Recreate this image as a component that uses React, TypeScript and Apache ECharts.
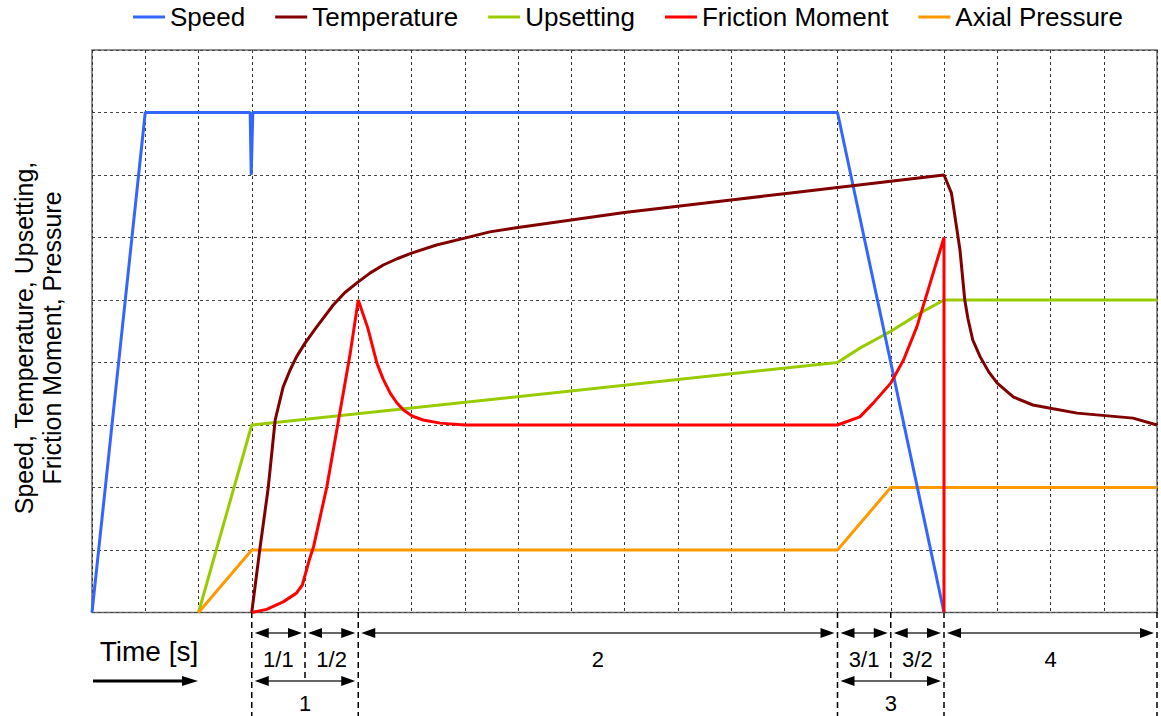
import React, { useEffect, useRef } from "react";
import * as echarts from "echarts";

// ---- Data (x in time units, y in relative units) ----
const speed: number[][] = [[0, 0], [1, 8], [2.97, 8], [2.99, 7], [3.02, 8], [14, 8], [16, 0]];
const temperature: number[][] = [
  [3, 0], [3.15, 1], [3.31, 2], [3.44, 3.08], [3.59, 3.61], [3.72, 3.88], [3.84, 4.09], [4.0, 4.31],
  [4.22, 4.57], [4.53, 4.92], [4.75, 5.12], [5.0, 5.29], [5.22, 5.43], [5.47, 5.56], [5.73, 5.66],
  [6.0, 5.75], [6.47, 5.88], [7.0, 5.99], [7.47, 6.09], [8, 6.16], [9, 6.28], [10, 6.4],
  [11, 6.5], [12, 6.6], [13, 6.7], [14, 6.8], [15, 6.9], [16, 7.0], [16.14, 6.71], [16.3, 5.8],
  [16.39, 5.0], [16.45, 4.7], [16.54, 4.36], [16.68, 4.09], [16.84, 3.85], [17, 3.67], [17.3, 3.45],
  [17.67, 3.32], [18.05, 3.26], [18.5, 3.19], [19.55, 3.11], [20, 3.0],
];
const upsetting: number[][] = [[2, 0], [3, 3], [14, 4], [14.42, 4.23], [15, 4.5], [15.55, 4.79], [16, 5], [20, 5]];
const frictionMoment: number[][] = [
  [3, 0], [3.28, 0.05], [3.59, 0.17], [3.84, 0.31], [3.95, 0.44], [4.08, 0.84], [4.16, 1.05],
  [4.41, 2.01], [4.63, 3.08], [4.85, 4.15], [5.0, 5.0], [5.18, 4.55], [5.35, 3.99], [5.47, 3.73],
  [5.6, 3.51], [5.72, 3.36], [5.85, 3.24], [6.02, 3.14], [6.22, 3.08], [6.54, 3.03], [7, 3],
  [14, 3], [14.42, 3.13], [14.67, 3.35], [15, 3.67], [15.24, 4.04], [15.49, 4.57], [15.74, 5.27],
  [16, 6], [16, 0],
];
const axialPressure: number[][] = [[2, 0], [3, 1], [14, 1], [15, 2], [20, 2]];

const seriesNames = ["Speed", "Temperature", "Upsetting", "Friction Moment", "Axial Pressure"];
const seriesColors = ["#3366FF", "#800000", "#99CC00", "#FF0000", "#FF9900"];

// Phase annotations below the time axis
const subPhases = [
  { from: 3, to: 4, label: "1/1" },
  { from: 4, to: 5, label: "1/2" },
  { from: 5, to: 14, label: "2" },
  { from: 14, to: 15, label: "3/1" },
  { from: 15, to: 16, label: "3/2" },
  { from: 16, to: 20, label: "4" },
];
const phases = [
  { from: 3, to: 5, label: "1" },
  { from: 14, to: 16, label: "3" },
];
const phaseBounds = [3, 4, 5, 14, 15, 16, 20];
const shortBounds = [4, 15];

const FONT = "Liberation Sans, Arial, sans-serif";

export default function App() {
  const ref = useRef<HTMLDivElement>(null);
  useEffect(() => {
    document.body.style.margin = "0";
    const chart = echarts.init(ref.current!, null, { renderer: "svg" });

    const arrowItems = [
      ...subPhases.map((p) => ({ ...p, row: 0 })),
      ...phases.map((p) => ({ ...p, row: 1 })),
    ];
    const rowLineOff = [21, 69];
    const rowLabelOff = [47, 91];

    const data = [speed, temperature, upsetting, frictionMoment, axialPressure];
    const zs = [3, 4, 2, 5, 2];

    const option: any = {
      animation: false,
      backgroundColor: "#fff",
      textStyle: { fontFamily: FONT },
      legend: {
        data: seriesNames,
        left: 133,
        top: 4,
        padding: 0,
        itemGap: 30,
        itemWidth: 32,
        itemHeight: 3,
        icon: "rect",
        textStyle: { fontSize: 26, color: "#000", fontFamily: FONT },
      },
      grid: [
        { left: 92, right: 4, top: 50, height: 562.5, show: true, borderColor: "#6b6b6b", borderWidth: 1.5, backgroundColor: "#fff" },
        { left: 92, right: 4, top: 612, height: 104 },
      ],
      xAxis: [
        {
          type: "value", gridIndex: 0, min: 0, max: 20, interval: 1,
          axisLabel: { show: false }, axisTick: { show: false }, axisLine: { show: false },
          splitLine: { show: true, lineStyle: { type: [3, 3], color: "#333", width: 1 } },
        },
        { type: "value", gridIndex: 1, min: 0, max: 20, show: false },
      ],
      yAxis: [
        {
          type: "value", gridIndex: 0, min: 0, max: 9, interval: 1,
          axisLabel: { show: false }, axisTick: { show: false }, axisLine: { show: false },
          splitLine: { show: true, lineStyle: { type: [3, 3], color: "#444", width: 1 } },
        },
        { type: "value", gridIndex: 1, min: 0, max: 1, show: false },
      ],
      series: [
        ...seriesNames.map((name, i) => ({
          name,
          type: "line",
          xAxisIndex: 0,
          yAxisIndex: 0,
          data: data[i],
          showSymbol: false,
          symbol: "none",
          z: zs[i],
          color: seriesColors[i],
          lineStyle: { color: seriesColors[i], width: 3 },
        })),
        {
          type: "custom",
          xAxisIndex: 1,
          yAxisIndex: 1,
          silent: true,
          data: phaseBounds.map((b) => [b, 0]),
          renderItem: (params: any, api: any) => {
            const b = api.value(0);
            const x = api.coord([b, 0])[0];
            const top = params.coordSys.y;
            const len = shortBounds.indexOf(b) >= 0 ? 69 : 104;
            return {
              type: "line",
              shape: { x1: x, y1: top, x2: x, y2: top + len },
              style: { stroke: "#000", lineWidth: 1.5, lineDash: [6, 4] },
            };
          },
        },
        {
          type: "custom",
          xAxisIndex: 1,
          yAxisIndex: 1,
          silent: true,
          data: arrowItems.map((a) => [a.from, a.to, a.row]),
          renderItem: (params: any, api: any) => {
            const item = arrowItems[params.dataIndex];
            const top = params.coordSys.y;
            const x1 = api.coord([api.value(0), 0])[0] + 3;
            const x2 = api.coord([api.value(1), 0])[0] - 3;
            const y = top + rowLineOff[item.row];
            const ly = top + rowLabelOff[item.row];
            const hl = 14;
            const hw = 5;
            return {
              type: "group",
              children: [
                { type: "line", shape: { x1: x1 + 4, y1: y, x2: x2 - 4, y2: y }, style: { stroke: "#333", lineWidth: 1.5 } },
                { type: "polygon", shape: { points: [[x1, y], [x1 + hl, y - hw], [x1 + hl, y + hw]] }, style: { fill: "#000" } },
                { type: "polygon", shape: { points: [[x2, y], [x2 - hl, y - hw], [x2 - hl, y + hw]] }, style: { fill: "#000" } },
                {
                  type: "text",
                  style: {
                    text: item.label, x: (x1 + x2) / 2, y: ly, align: "center", verticalAlign: "middle",
                    font: `22px ${FONT}`, fill: "#000",
                  },
                },
              ],
            };
          },
        },
      ],
      graphic: [
        {
          type: "text",
          x: 38,
          y: 338,
          rotation: Math.PI / 2,
          style: {
            text: "Speed, Temperature, Upsetting,\nFriction Moment, Pressure",
            align: "center",
            verticalAlign: "middle",
            font: `25px ${FONT}`,
            lineHeight: 28,
            fill: "#000",
          },
        },
        {
          type: "text",
          x: 149,
          y: 651,
          style: { text: "Time [s]", align: "center", verticalAlign: "middle", font: `28px ${FONT}`, fill: "#000" },
        },
        { type: "line", shape: { x1: 93, y1: 681, x2: 186, y2: 681 }, style: { stroke: "#000", lineWidth: 3 } },
        { type: "polygon", shape: { points: [[182, 676], [198, 681], [182, 686]] }, style: { fill: "#000" } },
      ],
    };
    chart.setOption(option);
    return () => chart.dispose();
  }, []);
  return <div ref={ref} style={{ width: 1161, height: 716 }} />;
}
